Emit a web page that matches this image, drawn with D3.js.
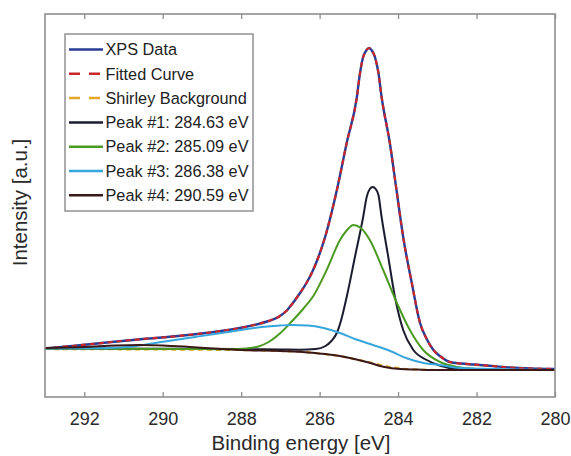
<!DOCTYPE html>
<html><head><meta charset="utf-8">
<script src="https://cdn.jsdelivr.net/npm/d3@7"></script>
<style>
body{margin:0;background:#fff;}
svg{display:block;font-family:"Liberation Sans",Arial,sans-serif;}
</style>
</head><body>
<svg id="c" width="571" height="456"></svg>
<script>
// ---- data (binding energy in eV, intensity in a.u.) ----
const xTicks = [292, 290, 288, 286, 284, 282, 280];
const xDomain = [293, 280];
const yDomain = [0, 383];
const seriesNames = ["XPS Data", "Fitted Curve", "Shirley Background"];
const peakCenters = [284.63, 285.09, 286.38, 290.59];

const dataBE = [293.0, 292.3, 291.3, 290.5, 289.6, 288.9, 288.33, 287.9, 287.56, 287.3, 287.05, 286.85, 286.7, 286.5, 286.35, 286.2, 286.03, 285.86, 285.56, 285.31, 285.05, 284.97, 284.89, 284.82, 284.74, 284.66, 284.59, 284.5, 284.42, 284.21, 284.04, 283.87, 283.65, 283.44, 283.27, 283.1, 282.9, 282.68, 282.4, 282.08, 281.6, 281.15, 280.6, 280.0];
const xpsI   = [48.5, 51, 55, 58, 61, 64, 67, 70, 73, 76, 80, 86, 93, 104, 113, 124, 140, 160, 207, 254, 300, 324, 340, 346, 349, 346, 340, 324, 300, 254, 207, 160, 114, 74, 58, 47, 40, 35, 33.5, 32.5, 31, 29.5, 28.5, 28];
const fitI   = [48.5, 51, 55, 58, 61, 64, 67, 70, 73, 76, 80, 86, 93, 104, 113, 124, 140, 160, 207, 254, 300, 324, 340, 346, 349, 346, 340, 324, 300, 254, 207, 160, 114, 74, 58, 47, 40, 35, 33.5, 32.5, 31, 29.5, 28.5, 28];

const bgBE = [293, 291, 289, 288, 287, 286.5, 286, 285.5, 285, 284.6, 284.2, 283.8, 283.4, 283, 282, 281, 280];
const bgI  = [48, 47.7, 47.3, 47, 46, 45.3, 43.5, 41, 37, 33.5, 30, 28, 27.3, 27, 27, 27, 27];

const p1BE = [293, 290, 288, 287, 286.5, 286.1, 285.85, 285.7, 285.55, 285.43, 285.31, 285.1, 284.89, 284.8, 284.72, 284.65, 284.57, 284.5, 284.42, 284.25, 284.08, 283.87, 283.61, 283.27, 282.9, 282.5, 281.5, 280];
const p1I  = [48.5, 48.3, 48, 47.5, 47.3, 48, 51, 56, 65, 80, 100, 140, 180, 200, 208, 210, 208, 202, 180, 140, 100, 67, 47, 37, 31, 28, 27, 27];

const p2BE = [293, 291, 289, 288.24, 287.9, 287.56, 287.3, 287.0, 286.7, 286.4, 286.16, 285.82, 285.48, 285.3, 285.14, 284.95, 284.72, 284.38, 284.03, 283.7, 283.36, 282.93, 282.5, 282, 281, 280];
const p2I  = [48.5, 48.3, 48, 47.7, 48.5, 50.5, 55, 64, 76, 89, 101, 127, 157, 167, 172, 169, 157, 127, 94, 67, 47, 35, 30, 28, 27, 27];

const p3BE = [293, 292, 291.73, 290.88, 290.03, 289.18, 288.33, 287.48, 287.0, 286.71, 286.3, 285.9, 285.48, 285.1, 284.64, 284.2, 283.78, 283.35, 282.93, 282.42, 281.5, 281, 280];
const p3I  = [48.5, 48.7, 48.7, 50, 55, 60, 65, 70, 71.5, 72, 71.5, 69, 64, 58, 52, 46, 38.7, 34, 32, 29, 28, 27.5, 27];

const p4BE = [293, 292, 291.2, 290.6, 290, 289.3, 288.5, 288, 287, 286.5, 286.07, 285.65, 285.06, 284.8, 284.38, 283.95, 283.53, 283, 280];
const p4I  = [49, 50, 51.5, 52, 51.5, 50, 48, 47, 46, 45.3, 43.7, 42, 37.5, 35, 30.3, 28, 27.5, 27, 27];

// ---- layout ----
const L = 45, R = 555, T = 14, B = 397;
const svg = d3.select("#c");
const x = d3.scaleLinear().domain(xDomain).range([L, R]);
const y = d3.scaleLinear().domain(yDomain).range([B, T]);

svg.append("defs").append("clipPath").attr("id", "clip")
  .append("rect").attr("x", L).attr("y", T).attr("width", R - L).attr("height", B - T);

const zip = (a, b) => a.map((v, i) => [v, b[i]]);
const line = d3.line().x(d => x(d[0])).y(d => y(d[1])).curve(d3.curveMonotoneX);

const curves = [
  {name: seriesNames[0], data: zip(dataBE, xpsI), color: "#283c96", w: 2.4, dash: null, legDash: null},
  {name: seriesNames[1], data: zip(dataBE, fitI), color: "#c8282a", w: 2.2, dash: "5,4", legDash: "11,9"},
  {name: seriesNames[2], data: zip(bgBE, bgI), color: "#e3a52a", w: 2.2, dash: "5,4", legDash: "11,9"},
  {name: `Peak #1: ${peakCenters[0].toFixed(2)} eV`, data: zip(p1BE, p1I), color: "#1c1c30", w: 2, dash: null, legDash: null},
  {name: `Peak #2: ${peakCenters[1].toFixed(2)} eV`, data: zip(p2BE, p2I), color: "#4b9a22", w: 2, dash: null, legDash: null},
  {name: `Peak #3: ${peakCenters[2].toFixed(2)} eV`, data: zip(p3BE, p3I), color: "#36a6dc", w: 2, dash: null, legDash: null},
  {name: `Peak #4: ${peakCenters[3].toFixed(2)} eV`, data: zip(p4BE, p4I), color: "#3a1818", w: 2, dash: null, legDash: null}
];

const plotG = svg.append("g").attr("clip-path", "url(#clip)");
plotG.selectAll("path.curve").data(curves).enter().append("path")
  .attr("class", "curve")
  .attr("d", d => line(d.data))
  .attr("fill", "none")
  .attr("stroke", d => d.color)
  .attr("stroke-width", d => d.w)
  .attr("stroke-dasharray", d => d.dash)
  .attr("stroke-linejoin", "round");

// ---- axes ----
const axisColor = "#8f8f8f";
const bottomAx = svg.append("g").attr("transform", `translate(0,${B})`)
  .call(d3.axisBottom(x).tickValues(xTicks).tickSizeInner(-5).tickSizeOuter(0).tickPadding(15).tickFormat(d3.format("d")));
bottomAx.select(".domain").remove();
bottomAx.selectAll(".tick line").attr("stroke", axisColor).attr("stroke-width", 1.3);
bottomAx.selectAll(".tick text").attr("fill", "#2a2a2a").attr("font-size", 18)
  .attr("font-family", '"Liberation Sans",Arial,sans-serif');

const topAx = svg.append("g").attr("transform", `translate(0,${T})`)
  .call(d3.axisTop(x).tickValues(xTicks).tickSizeInner(-5).tickSizeOuter(0).tickFormat(""));
topAx.select(".domain").remove();
topAx.selectAll(".tick line").attr("stroke", axisColor).attr("stroke-width", 1.3);

svg.append("rect").attr("x", L).attr("y", T).attr("width", R - L).attr("height", B - T)
  .attr("fill", "none").attr("stroke", axisColor).attr("stroke-width", 1.6);

svg.append("text").attr("x", (L + R) / 2 + 1).attr("y", 450).attr("text-anchor", "middle")
  .attr("font-size", 20.5).attr("fill", "#2a2a2a").text("Binding energy [eV]");
svg.append("text").attr("transform", `translate(27,${(T + B) / 2 - 3}) rotate(-90)`)
  .attr("text-anchor", "middle").attr("font-size", 20.5).attr("fill", "#2a2a2a").text("Intensity [a.u.]");

// ---- legend ----
const lg = svg.append("g");
lg.append("rect").attr("x", 65).attr("y", 34).attr("width", 188).attr("height", 177)
  .attr("fill", "#fff").attr("stroke", "#8a8a8a").attr("stroke-width", 1.4);
const rows = lg.selectAll("g.row").data(curves).enter().append("g").attr("class", "row")
  .attr("transform", (d, i) => `translate(0,${49.5 + i * 24.3})`);
rows.append("line").attr("x1", 69).attr("x2", 103).attr("y1", 0).attr("y2", 0)
  .attr("stroke", d => d.color).attr("stroke-width", 2.5).attr("stroke-dasharray", d => d.legDash);
rows.append("text").attr("x", 105.5).attr("y", 5.7).attr("font-size", 16.3).attr("fill", "#222")
  .text(d => d.name);
</script>
</body></html>
